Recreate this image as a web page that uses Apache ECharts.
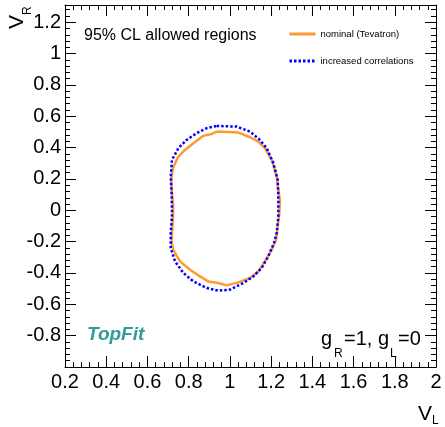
<!DOCTYPE html>
<html>
<head>
<meta charset="utf-8">
<script src="https://cdn.jsdelivr.net/npm/echarts@6/dist/echarts.min.js"></script>
<style>
html,body{margin:0;padding:0;background:#fff;}
#c{width:445px;height:427px;}
</style>
</head>
<body>
<div id="c"></div>
<script>
// ---- data ----
var nominalX = [0.936,1.041,1.098,1.138,1.170,1.203,1.227,1.235,1.243,1.240,1.232,1.224,1.203,1.170,1.138,1.098,1.041,0.985,0.944,0.895,0.855,0.807,0.758,0.725,0.718,0.719,0.723,0.725,0.719,0.716,0.723,0.750,0.782,0.823,0.871,0.912,0.936];
var nominalY = [0.502,0.496,0.466,0.438,0.396,0.322,0.215,0.131,0.056,-0.018,-0.103,-0.188,-0.252,-0.326,-0.390,-0.432,-0.460,-0.479,-0.464,-0.454,-0.422,-0.379,-0.326,-0.252,-0.209,-0.143,-0.061,0.024,0.110,0.194,0.269,0.343,0.385,0.428,0.475,0.487,0.502];
var corrX = [0.936,1.033,1.098,1.146,1.179,1.211,1.232,1.235,1.235,1.227,1.214,1.186,1.154,1.114,1.065,1.001,0.944,0.888,0.823,0.774,0.734,0.713,0.713,0.719,0.718,0.713,0.719,0.750,0.790,0.839,0.888,0.936];
var corrY = [0.538,0.534,0.502,0.449,0.396,0.301,0.194,0.088,-0.039,-0.145,-0.209,-0.294,-0.368,-0.422,-0.464,-0.506,-0.513,-0.496,-0.454,-0.400,-0.326,-0.241,-0.145,-0.039,0.088,0.215,0.322,0.396,0.449,0.492,0.524,0.538];
var seriesNames = ['nominal (Tevatron)', 'increased correlations'];
var xRange = [0.2, 2.0];
var yRange = [-1.0, 1.31];
var tickStep = 0.2;

function pairs(xs, ys) { return xs.map(function (x, i) { return [x, ys[i]]; }); }

var chart = echarts.init(document.getElementById('c'), null, {renderer: 'canvas'});
var FONT = 'Liberation Sans, Arial, Helvetica, sans-serif';
var axisCommon = {
  type: 'value',
  interval: tickStep,
  axisLine: {show: true, onZero: false, lineStyle: {color: '#000', width: 1}},
  axisTick: {show: true, inside: true, length: 11, lineStyle: {color: '#000'}},
  minorTick: {show: true, splitNumber: 5, length: 5, lineStyle: {color: '#000'}},
  splitLine: {show: false},
  minorSplitLine: {show: false}
};
function fmt(v) {
  var r = Math.round(v * 100) / 100;
  return String(r);
}

chart.setOption({
  animation: false,
  backgroundColor: '#fff',
  grid: {left: 65, right: 9, top: 5, bottom: 60},
  xAxis: [
    Object.assign({}, axisCommon, {
      min: xRange[0], max: xRange[1], position: 'bottom',
      axisLabel: {show: true, margin: 5, fontSize: 20, color: '#000', fontFamily: FONT, formatter: fmt}
    }),
    Object.assign({}, axisCommon, {
      min: xRange[0], max: xRange[1], position: 'top',
      axisLabel: {show: false}
    })
  ],
  yAxis: [
    Object.assign({}, axisCommon, {
      min: yRange[0], max: yRange[1], position: 'left',
      axisLabel: {show: true, margin: 4, fontSize: 20, color: '#000', fontFamily: FONT, showMaxLabel: false,
        formatter: function (v) { return Math.abs(v + 1) < 1e-6 ? '' : fmt(v); }}
    }),
    Object.assign({}, axisCommon, {
      min: yRange[0], max: yRange[1], position: 'right',
      axisLabel: {show: false}
    })
  ],
  legend: {
    orient: 'vertical', left: 283, top: 24, itemWidth: 26, itemHeight: 10, itemGap: 17,
    itemStyle: {opacity: 0},
    lineStyle: {width: 3},
    textStyle: {fontSize: 9.5, color: '#000', fontFamily: FONT},
    data: seriesNames
  },
  series: [
    {
      name: seriesNames[0], type: 'line', xAxisIndex: 0, yAxisIndex: 0,
      data: pairs(nominalX, nominalY), symbol: 'none', smooth: false,
      lineStyle: {color: '#ff9933', width: 2.5}, itemStyle: {color: '#ff9933'}, z: 2
    },
    {
      name: seriesNames[1], type: 'line', xAxisIndex: 0, yAxisIndex: 0,
      data: pairs(corrX, corrY), symbol: 'none', smooth: false,
      lineStyle: {color: '#0000ff', width: 2.5, type: [2.5, 2]}, itemStyle: {color: '#0000ff'}, z: 3
    }
  ],
  graphic: [
    {type: 'text', left: 84, top: 28, style: {text: '95% CL allowed regions', fontSize: 16, fill: '#000', fontFamily: FONT}},
    {type: 'text', left: 87, top: 325, style: {text: 'TopFit', fontSize: 19, fontWeight: 'bold', fontStyle: 'italic', fill: '#339999', fontFamily: FONT}},
    {type: 'text', x: 321, y: 329, style: {text: 'g', fontSize: 20, fill: '#000', fontFamily: FONT, verticalAlign: 'top'}},
    {type: 'text', x: 334, y: 348, style: {text: 'R', fontSize: 12, fill: '#000', fontFamily: FONT, verticalAlign: 'top'}},
    {type: 'text', x: 344, y: 329, style: {text: '=1, g', fontSize: 20, fill: '#000', fontFamily: FONT, verticalAlign: 'top'}},
    {type: 'text', x: 390, y: 348, style: {text: 'L', fontSize: 12, fill: '#000', fontFamily: FONT, verticalAlign: 'top'}},
    {type: 'text', x: 398, y: 329, style: {text: '=0', fontSize: 20, fill: '#000', fontFamily: FONT, verticalAlign: 'top'}},
    {type: 'text', x: 7, y: 29, rotation: Math.PI / 2, style: {text: 'V', fontSize: 21, fill: '#000', fontFamily: FONT, align: 'left', verticalAlign: 'top'}},
    {type: 'text', x: 22, y: 15, rotation: Math.PI / 2, style: {text: 'R', fontSize: 12, fill: '#000', fontFamily: FONT, align: 'left', verticalAlign: 'top'}},
    {type: 'text', x: 418, y: 404, style: {text: 'V', fontSize: 21, fill: '#000', fontFamily: FONT, verticalAlign: 'top'}},
    {type: 'text', x: 432, y: 415, style: {text: 'L', fontSize: 12, fill: '#000', fontFamily: FONT, verticalAlign: 'top'}}
  ]
});
</script>
</body>
</html>
